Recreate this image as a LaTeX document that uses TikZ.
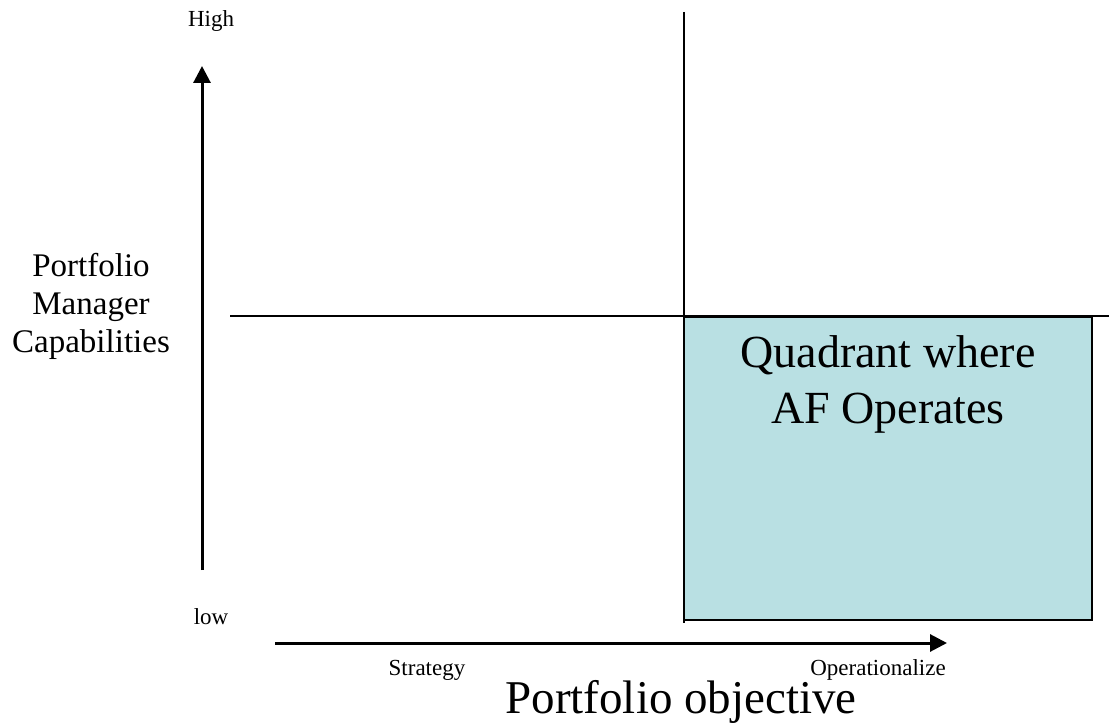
\documentclass[tikz,border=0pt]{standalone}
\usepackage{fontspec}
\setmainfont{Liberation Serif}
\usetikzlibrary{arrows.meta}
\definecolor{quadfill}{RGB}{185,224,227}
\tikzset{
  axisarrow/.style={line width=3pt,-{Triangle[length=17pt,width=17pt]}},
  divider/.style={line width=2.3pt},
  quadbox/.style={draw=black,line width=2.5pt,fill=quadfill},
  smalltext/.style={font=\fontsize{23}{27}\selectfont,anchor=base,inner sep=0pt},
  midtext/.style={font=\fontsize{33}{38}\selectfont,anchor=base,inner sep=0pt},
  bigtext/.style={font=\fontsize{46}{54}\selectfont,anchor=base,inner sep=0pt},
}
\begin{document}
\begin{tikzpicture}[x=1pt,y=-1pt]
\useasboundingbox (0,0) rectangle (1109,727);
% quadrant box
\draw[quadbox] (684,317) rectangle (1092,620);
% dividers
\coordinate (vtop) at (684,12);
\coordinate (vbot) at (684,623);
\coordinate (hleft) at (230,316);
\coordinate (hright) at (1109,316);
\draw[divider] (vtop) -- (vbot);
\draw[divider] (hleft) -- (hright);
% axes
\coordinate (ybot) at (202,570);
\coordinate (ytop) at (202,66);
\coordinate (xleft) at (275,643);
\coordinate (xright) at (947,643);
\draw[axisarrow] (ybot) -- (ytop);
\draw[axisarrow] (xleft) -- (xright);
% labels
\node[smalltext] (high) at (211,27) {High};
\node[smalltext] (low) at (211,624) {low};
\node[smalltext] (strategy) at (427,675) {Strategy};
\node[smalltext] (oper) at (878,675) {Operationalize};
\node[bigtext,font=\fontsize{47}{54}\selectfont] (pobj) at (681,713) {Portfolio objective};
\node[midtext] (pmc1) at (91,277) {Portfolio};
\node[midtext] (pmc2) at (91,315) {Manager};
\node[midtext] (pmc3) at (91,353) {Capabilities};
\node[bigtext] (q1) at (888,367) {Quadrant where};
\node[bigtext] (q2) at (888,423) {AF Operates};
\end{tikzpicture}
\end{document}
